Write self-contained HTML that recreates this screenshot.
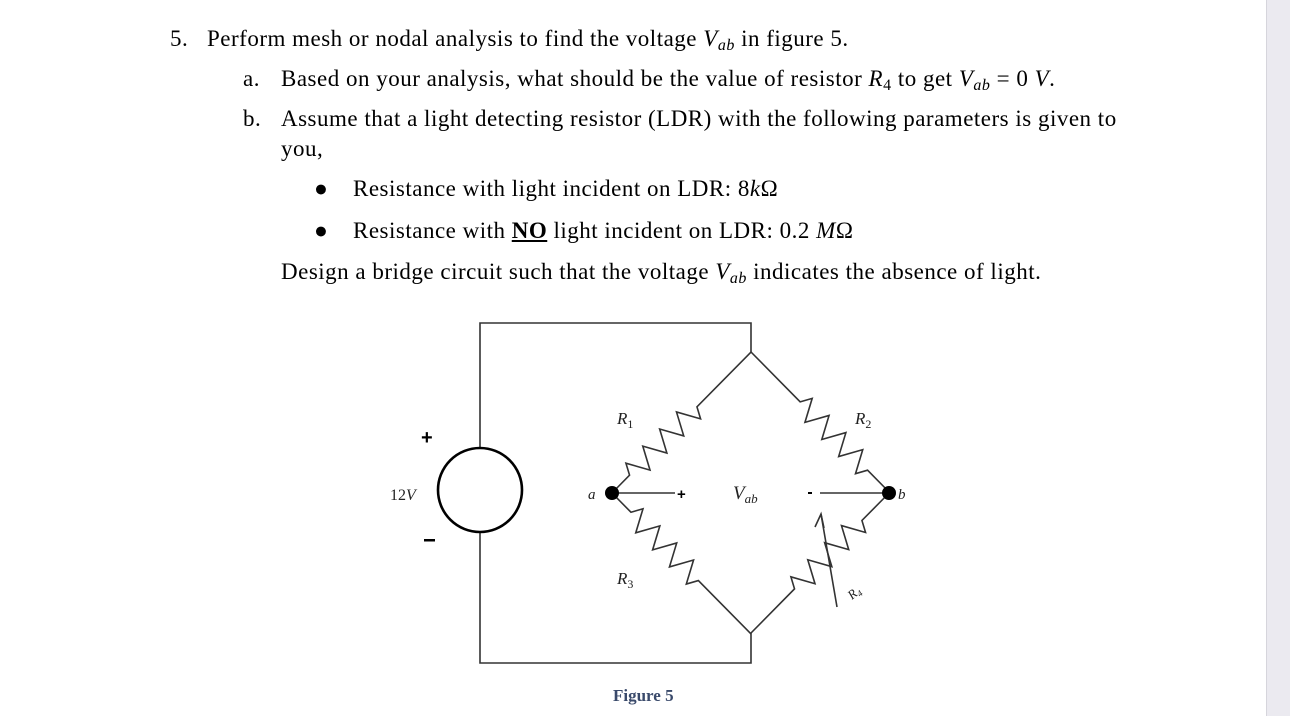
<!DOCTYPE html>
<html><head><meta charset="utf-8"><style>
html,body{margin:0;padding:0}
body{width:1290px;height:716px;position:relative;background:#fff;overflow:hidden;font-family:"Liberation Serif",serif;color:#000}
.gray{position:absolute;left:1266px;top:0;width:24px;height:716px;background:#ebeaf0;border-left:1px solid #d6d5dc}
.t{position:absolute;font-size:23px;letter-spacing:0.5px;white-space:nowrap;line-height:1}
i{font-style:italic}
sub{font-size:16px;vertical-align:-4px;line-height:0}
</style></head><body>
<div class="gray"></div>
<div class="t" style="left:170px;top:27px">5.</div>
<div class="t" style="left:207px;top:27px">Perform mesh or nodal analysis to find the voltage <i>V<sub>ab</sub></i> in figure 5.</div>
<div class="t" style="left:243px;top:67px">a.</div>
<div class="t" style="left:281px;top:67px">Based on your analysis, what should be the value of resistor <i>R</i><sub>4</sub> to get <i>V<sub>ab</sub></i> = 0 <i>V</i>.</div>
<div class="t" style="left:243px;top:107px">b.</div>
<div class="t" style="left:281px;top:107px">Assume that a light detecting resistor (LDR) with the following parameters is given to</div>
<div class="t" style="left:281px;top:137px">you,</div>
<div class="t" style="left:314px;top:177px">●</div>
<div class="t" style="left:353px;top:177px">Resistance with light incident on LDR: 8<i>k</i>Ω</div>
<div class="t" style="left:314px;top:219px">●</div>
<div class="t" style="left:353px;top:219px">Resistance with <b><u>NO</u></b> light incident on LDR: 0.2 <i>M</i>Ω</div>
<div class="t" style="left:281px;top:260px">Design a bridge circuit such that the voltage <i>V<sub>ab</sub></i> indicates the absence of light.</div>

<svg width="1290" height="716" style="position:absolute;left:0;top:0" font-family="Liberation Serif, serif">
<g fill="none" stroke="#333" stroke-width="1.6">
<polyline points="480,448 480,323 751,323 751,352"/>
<polyline points="480,533 480,663 751,663 751,633"/>
<circle cx="480" cy="490" r="42" stroke="#000" stroke-width="2.6"/>
<g transform="translate(612,493) rotate(-45.4)">
<polyline points="0,0 25,0 31,-11 43,11 55,-11 67,11 79,-11 91,11 103,-11 115,11 121,0 198,0"/>
</g>
<g transform="translate(751,352) rotate(45.4)">
<polyline points="0,0 70,0 76,-11 88,11 100,-11 112,11 124,-11 136,11 148,-11 160,11 166,0 198,0"/>
</g>
<g transform="translate(612,493) rotate(45.4)">
<polyline points="0,0 27,0 33,-11 45,11 57,-11 69,11 81,-11 93,11 105,-11 117,11 123,0 198,0"/>
</g>
<g transform="translate(751,633) rotate(-45.4)">
<polyline points="0,0 62,0 68,-11 80,11 92,-11 104,11 116,-11 128,11 140,-11 152,11 158,0 198,0"/>
</g>
<line x1="612" y1="493" x2="675" y2="493"/>
<line x1="820" y1="493" x2="889" y2="493"/>
<line x1="837" y1="607" x2="821" y2="514"/>
<polyline points="815,527 821,514 824,528"/>
</g>
<circle cx="612" cy="493" r="7" fill="#000"/>
<circle cx="889" cy="493" r="7" fill="#000"/>
<g font-size="17" fill="#222">
<text x="617" y="424" font-style="italic">R<tspan font-size="12" dy="4" font-style="normal">1</tspan></text>
<text x="855" y="424" font-style="italic">R<tspan font-size="12" dy="4" font-style="normal">2</tspan></text>
<text x="617" y="584" font-style="italic">R<tspan font-size="12" dy="4" font-style="normal">3</tspan></text>
<text x="0" y="0" font-style="italic" font-size="13" transform="translate(852,600) rotate(-40)">R<tspan font-size="9" dy="3">4</tspan></text>
<text x="733" y="499" font-style="italic" font-size="19">V<tspan font-size="13" dy="4">ab</tspan></text>
<text x="390" y="500" font-size="16">12<tspan font-style="italic">V</tspan></text>
<text x="588" y="499" font-style="italic" font-size="15">a</text>
<text x="898" y="499" font-style="italic" font-size="15">b</text>
</g>
<g font-family="Liberation Sans, sans-serif" font-weight="bold" fill="#000">
<text x="421" y="444" font-size="20">+</text>
<rect x="424" y="539" width="11" height="2.5"/>
<text x="677" y="499" font-size="15">+</text>
<rect x="808" y="492" width="4" height="2"/>
</g>
<text x="613" y="701" font-size="17" font-weight="bold" fill="#3a4a6b">Figure 5</text>
</svg>
</body></html>
